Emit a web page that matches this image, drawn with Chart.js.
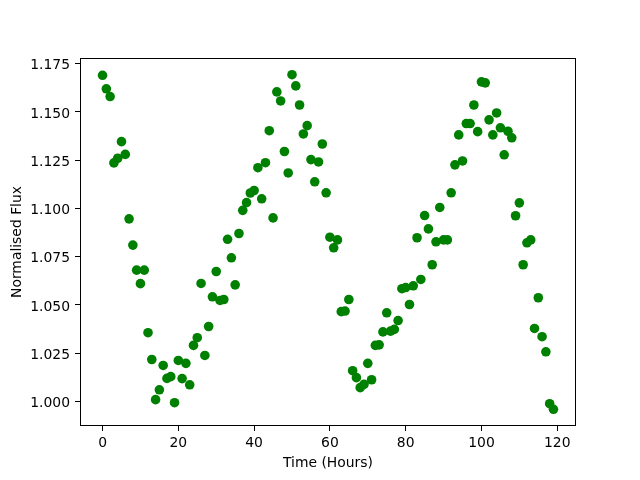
<!DOCTYPE html>
<html>
<head>
<meta charset="utf-8">
<script src="https://cdn.jsdelivr.net/npm/chart.js@4/dist/chart.umd.min.js"></script>
<style>
  html, body { margin: 0; padding: 0; background: #ffffff; }
  #c { display: block; }
</style>
</head>
<body>
<canvas id="c" width="640" height="480"></canvas>
<script>
const hours = [0,1,2,3,4,5,6,7,8,9,10,11,12,13,14,15,16,17,18,19,
  20,21,22,23,24,25,26,27,28,29,30,31,32,33,34,35,36,37,38,39,
  40,41,42,43,44,45,46,47,48,49,50,51,52,53,54,55,56,57,58,59,
  60,61,62,63,64,65,66,67,68,69,70,71,72,73,74,75,76,77,78,79,
  80,81,82,83,84,85,86,87,88,89,90,91,92,93,94,95,96,97,98,99,
  100,101,102,103,104,105,106,107,108,109,110,111,112,113,114,115,116,117,118,119];

const flux = [1.1690,1.1620,1.1580,1.1236,1.1260,1.1346,1.1280,1.0946,1.0810,1.0680,
  1.0610,1.0680,1.0356,1.0217,1.0009,1.0060,1.0186,1.0119,1.0128,0.9993,
  1.0212,1.0118,1.0197,1.0086,1.0290,1.0330,1.0611,1.0238,1.0388,1.0542,
  1.0673,1.0523,1.0528,1.0840,1.0744,1.0604,1.0870,1.0990,1.1030,1.1080,
  1.1093,1.1211,1.1050,1.1237,1.1403,1.0951,1.1604,1.1557,1.1295,1.1184,
  1.1693,1.1635,1.1536,1.1386,1.1429,1.1253,1.1138,1.1241,1.1334,1.1081,
  1.0851,1.0796,1.0837,1.0465,1.0468,1.0528,1.0159,1.0123,1.0071,1.0088,
  1.0197,1.0112,1.0290,1.0293,1.0360,1.0459,1.0364,1.0373,1.0419,1.0584,
  1.0590,1.0502,1.0599,1.0848,1.0632,1.0963,1.0894,1.0708,1.0827,1.1005,
  1.0837,1.0837,1.1081,1.1226,1.1381,1.1246,1.1440,1.1440,1.1536,1.1398,
  1.1656,1.1651,1.1459,1.1381,1.1495,1.1418,1.1278,1.1400,1.1366,1.0962,
  1.1029,1.0708,1.0822,1.0837,1.0378,1.0537,1.0335,1.0257,0.9988,0.9959];

const xTicks = [0, 20, 40, 60, 80, 100, 120];
const yTicks = [1.000, 1.025, 1.050, 1.075, 1.100, 1.125, 1.150, 1.175];

const xLabel = 'Time (Hours)';
const yLabel = 'Normalised Flux';

// matplotlib-like 5% margins
const xMinD = Math.min(...hours), xMaxD = Math.max(...hours);
const yMinD = Math.min(...flux), yMaxD = Math.max(...flux);
const xm = (xMaxD - xMinD) * 0.05, ym = (yMaxD - yMinD) * 0.05;

const points = hours.map((h, i) => ({ x: h, y: flux[i] }));

const FONT = { family: 'DejaVu Sans', size: 13.9 };

const frame = {
  id: 'frame',
  afterDatasetsDraw(chart) {
    const a = chart.chartArea, ctx = chart.ctx;
    ctx.save();
    ctx.strokeStyle = '#000000';
    ctx.lineWidth = 1;
    ctx.strokeRect(Math.round(a.left) + 0.5, Math.round(a.top) + 0.5,
                   Math.round(a.right - a.left) - 1, Math.round(a.bottom - a.top) - 1);
    ctx.restore();
  }
};

new Chart(document.getElementById('c'), {
  type: 'scatter',
  data: {
    datasets: [{
      data: points,
      backgroundColor: '#008000',
      borderColor: '#008000',
      borderWidth: 0,
      pointRadius: 4.8,
      pointHoverRadius: 4.8
    }]
  },
  options: {
    responsive: false,
    animation: false,
    events: [],
    layout: { padding: { left: 0, right: 64, top: 58, bottom: 0 } },
    plugins: { legend: { display: false }, tooltip: { enabled: false } },
    scales: {
      x: {
        type: 'linear',
        min: xMinD - xm,
        max: xMaxD + xm,
        afterBuildTicks(s) { s.ticks = xTicks.map(v => ({ value: v })); },
        afterFit(s) { s.height = 54; },
        grid: { display: true, drawOnChartArea: false, drawTicks: true, tickLength: 5, tickWidth: 1, tickColor: '#000000' },
        border: { display: false },
        ticks: { color: '#000000', font: FONT, padding: 4, maxRotation: 0, autoSkip: false,
                 callback: v => String(v) },
        title: { display: true, text: xLabel, color: '#000000', font: FONT, padding: { top: 0, bottom: 8 } }
      },
      y: {
        type: 'linear',
        min: yMinD - ym,
        max: yMaxD + ym,
        afterBuildTicks(s) { s.ticks = yTicks.map(v => ({ value: v })); },
        afterFit(s) { s.width = 80; },
        grid: { display: true, drawOnChartArea: false, drawTicks: true, tickLength: 5, tickWidth: 1, tickColor: '#000000' },
        border: { display: false },
        ticks: { color: '#000000', font: FONT, padding: 5, labelOffset: 2, autoSkip: false,
                 callback: v => Number(v).toFixed(3) },
        title: { display: true, text: yLabel, color: '#000000', font: FONT, padding: { top: 8.6, bottom: 0 } }
      }
    }
  },
  plugins: [frame]
});
</script>
</body>
</html>
